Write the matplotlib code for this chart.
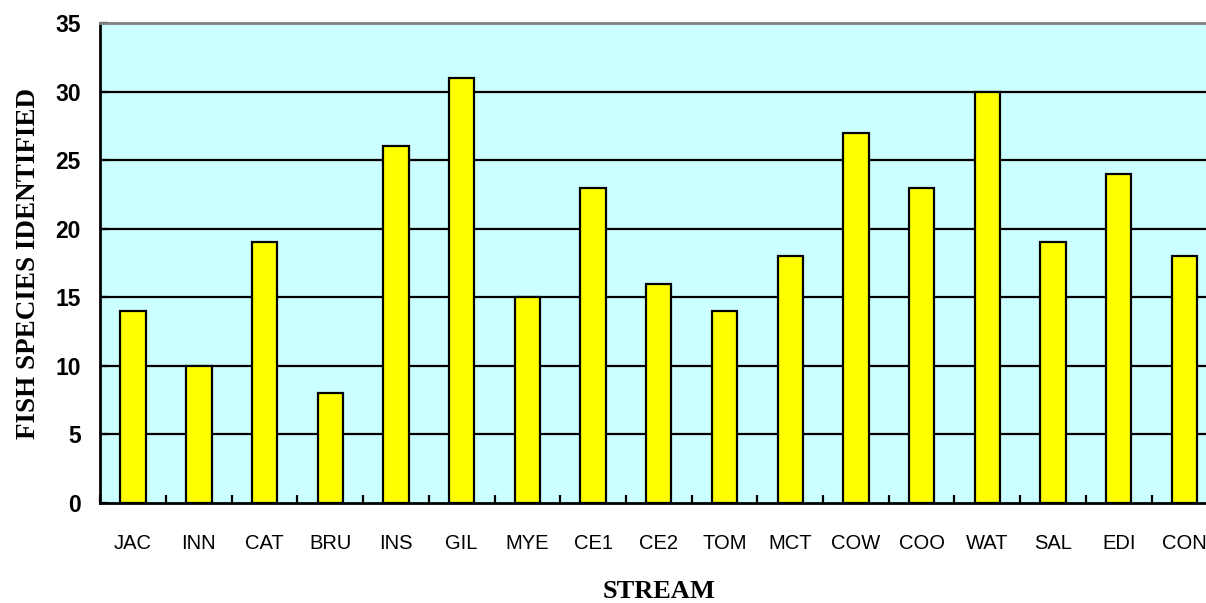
import matplotlib
matplotlib.use("Agg")
import matplotlib.pyplot as plt
import numpy as np

streams = ["JAC", "INN", "CAT", "BRU", "INS", "GIL", "MYE", "CE1", "CE2",
           "TOM", "MCT", "COW", "COO", "WAT", "SAL", "EDI", "CON"]
species = [14, 10, 19, 8, 26, 31, 15, 23, 16, 14, 18, 27, 23, 30, 19, 24, 18]
yticks = [0, 5, 10, 15, 20, 25, 30, 35]

fig = plt.figure(figsize=(12.06, 6.03), dpi=100)
ax = fig.add_axes([100.3 / 1206, 100 / 603, 1117 / 1206, 480 / 603])
ax.set_facecolor("#CCFFFF")

x = np.arange(len(streams))
ax.bar(x, species, width=0.386, color="#FFFF00", edgecolor="black",
       linewidth=1.6, zorder=3)

ax.set_xlim(-0.5, len(streams) - 0.5)
ax.set_ylim(0, 35)
ax.set_yticks(yticks)
ax.set_yticklabels([str(v) for v in yticks], fontfamily="Liberation Sans",
                   fontweight="bold", fontsize=16.5)
for v in yticks[1:-1]:
    ax.axhline(v, color="black", linewidth=1.6, zorder=1)

ax.set_xticks(x)
ax.set_xticklabels(streams, fontfamily="Liberation Sans", fontsize=14.5)
ax.set_xticks(np.arange(len(streams) + 1) - 0.5, minor=True)
ax.tick_params(axis="x", which="major", length=0, pad=22)
ax.tick_params(axis="x", which="minor", direction="in", length=6,
               width=1.6, color="black")
ax.tick_params(axis="y", direction="in", length=6, width=1.6, pad=14)

for side in ["left", "bottom"]:
    ax.spines[side].set_linewidth(2)
    ax.spines[side].set_color("black")
ax.spines["top"].set_color("#808080")
ax.spines["top"].set_linewidth(2)
ax.spines["right"].set_visible(False)

ax.set_ylabel("FISH SPECIES IDENTIFIED", fontfamily="Liberation Serif",
              fontweight="bold", fontsize=19.5, labelpad=10)
ax.set_xlabel("STREAM", fontfamily="Liberation Serif", fontweight="bold",
              fontsize=19, labelpad=20)

fig.savefig("out.png", dpi=100)
